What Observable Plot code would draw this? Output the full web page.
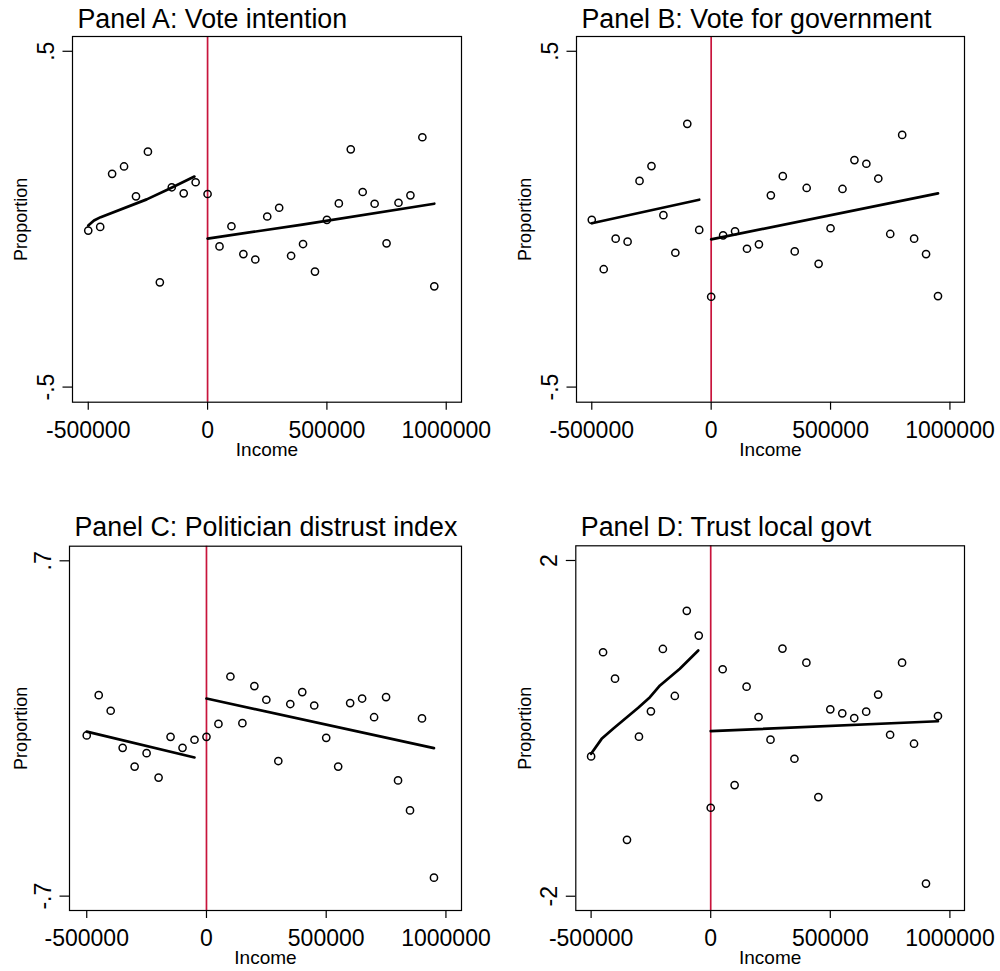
<!DOCTYPE html>
<html><head><meta charset="utf-8">
<script src="https://cdn.jsdelivr.net/npm/d3@7"></script>
<script src="https://cdn.jsdelivr.net/npm/@observablehq/plot@0.6"></script>
<style>
body{margin:0;background:#fff;}
#wrap{position:relative;width:1000px;height:971px;background:#fff;overflow:hidden;}
#wrap svg{position:absolute;font-family:"Liberation Sans",Arial,sans-serif;overflow:visible;}
</style></head><body><div id="wrap"></div>
<script>
// Income bins (x)
const income = [-500000,-450000,-400000,-350000,-300000,-250000,-200000,-150000,-100000,-50000,
  0,50000,100000,150000,200000,250000,300000,350000,400000,450000,
  500000,550000,600000,650000,700000,750000,800000,850000,900000,950000];

const titles = ["Panel A: Vote intention","Panel B: Vote for government","Panel C: Politician distrust index","Panel D: Trust local govt"];
const xLabel = "Income";
const yLabel = "Proportion";
const xTicks = [-500000, 0, 500000, 1000000];
const xTickLabels = ["-500000","0","500000","1000000"];

// Panel A
const voteIntention = [-0.034,-0.023,0.135,0.157,0.068,0.201,-0.188,0.095,0.077,0.110,
  0.075,-0.081,-0.021,-0.104,-0.120,0.008,0.034,-0.109,-0.074,-0.156,
  -0.002,0.047,0.208,0.081,0.046,-0.072,0.049,0.071,0.244,-0.200];
const fitA_leftX = [-500000,-476000,-448000,-255000,-162000,-55000];
const fitA_leftY = [-0.019,-0.004,0.006,0.059,0.090,0.127];
const fitA_rightX = [0,397000,950000];
const fitA_rightY = [-0.058,-0.016,0.046];
const ticksA = [-0.5,0.5], tickLabelsA = ["-.5",".5"];

// Panel B
const voteGovt = [-0.002,-0.149,-0.058,-0.067,0.114,0.158,0.012,-0.100,0.284,-0.032,
  -0.231,-0.048,-0.036,-0.088,-0.075,0.071,0.128,-0.096,0.093,-0.133,
  -0.027,0.090,0.176,0.165,0.121,-0.044,0.251,-0.058,-0.104,-0.229];
const fitB_leftX = [-500000,-50000];
const fitB_leftY = [-0.012,0.058];
const fitB_rightX = [0,950000];
const fitB_rightY = [-0.060,0.077];
const ticksB = [-0.5,0.5], tickLabelsB = ["-.5",".5"];

// Panel C
const distrust = [-0.029,0.139,0.074,-0.081,-0.159,-0.103,-0.205,-0.035,-0.081,-0.047,
  -0.035,0.019,0.217,0.022,0.177,0.120,-0.136,0.102,0.152,0.096,
  -0.039,-0.159,0.106,0.125,0.047,0.131,-0.217,-0.342,0.042,-0.623];
const fitC_leftX = [-500000,-50000];
const fitC_leftY = [-0.013,-0.121];
const fitC_rightX = [0,950000];
const fitC_rightY = [0.125,-0.082];
const ticksC = [-0.7,0.7], tickLabelsC = ["-.7",".7"];

// Panel D
const trustLocal = [-0.334,0.907,0.592,-1.328,-0.099,0.203,0.946,0.386,1.400,1.105,
  -0.946,0.704,-0.676,0.497,0.135,-0.135,0.950,-0.362,0.783,-0.819,
  0.227,0.179,0.123,0.199,0.402,-0.076,0.783,-0.183,-1.849,0.147];
const fitD_leftX = [-500000,-456000,-408000,-303000,-254000,-212000,-129000,-52000];
const fitD_leftY = [-0.303,-0.125,-0.005,0.245,0.371,0.511,0.710,0.928];
const fitD_rightX = [0,950000];
const fitD_rightY = [-0.034,0.085];
const ticksD = [-2,2], tickLabelsD = ["-2","2"];

const panels = [
  {title: titles[0], values: voteIntention, fl: [fitA_leftX, fitA_leftY], fr: [fitA_rightX, fitA_rightY],
   yTicks: ticksA, yLabels: tickLabelsA, xDomain: [-566000,1064000], yDomain: [-0.545,0.544],
   left: 0, top: 0, width: 500, height: 470, mL: 72, mR: 39, mT: 36, mB: 68.3,
   titleDy: -8.7, incomeDy: 54, yLabelDx: -46},
  {title: titles[1], values: voteGovt, fl: [fitB_leftX, fitB_leftY], fr: [fitB_rightX, fitB_rightY],
   yTicks: ticksB, yLabels: tickLabelsB, xDomain: [-564000,1061000], yDomain: [-0.545,0.544],
   left: 500, top: 0, width: 500, height: 470, mL: 76, mR: 36, mT: 36, mB: 68.3,
   titleDy: -8.7, incomeDy: 54, yLabelDx: -45.3},
  {title: titles[2], values: distrust, fl: [fitC_leftX, fitC_leftY], fr: [fitC_rightX, fitC_rightY],
   yTicks: ticksC, yLabels: tickLabelsC, xDomain: [-572000,1065000], yDomain: [-0.760,0.761],
   left: 0, top: 500, width: 500, height: 471, mL: 69, mR: 39, mT: 45.7, mB: 61,
   titleDy: -10.7, incomeDy: 53.3, yLabelDx: -43},
  {title: titles[3], values: trustLocal, fl: [fitD_leftX, fitD_leftY], fr: [fitD_rightX, fitD_rightY],
   yTicks: ticksD, yLabels: tickLabelsD, xDomain: [-564000,1061000], yDomain: [-2.17,2.175],
   left: 500, top: 500, width: 500, height: 471, mL: 75.3, mR: 36, mT: 45.3, mB: 61,
   titleDy: -10.3, incomeDy: 53.3, yLabelDx: -44.6}
];

const wrap = document.getElementById("wrap");
for (const p of panels) {
  const pts = income.map((x, i) => ({x, y: p.values[i]}));
  const fl = p.fl[0].map((x, i) => ({x, y: p.fl[1][i]}));
  const fr = p.fr[0].map((x, i) => ({x, y: p.fr[1][i]}));
  const svg = Plot.plot({
    width: p.width, height: p.height,
    marginLeft: p.mL, marginRight: p.mR, marginTop: p.mT, marginBottom: p.mB,
    style: {fontFamily: "'Liberation Sans', Arial, sans-serif", background: "transparent", color: "black"},
    x: {domain: p.xDomain},
    y: {domain: p.yDomain},
    marks: [
      Plot.ruleX([0], {stroke: "#c8143c", strokeWidth: 1.7}),
      Plot.line(fl, {x: "x", y: "y", stroke: "black", strokeWidth: 2.7}),
      Plot.line(fr, {x: "x", y: "y", stroke: "black", strokeWidth: 2.7}),
      Plot.dot(pts, {x: "x", y: "y", r: 3.6, stroke: "black", strokeWidth: 1.5, fill: "none"}),
      Plot.frame({stroke: "black", strokeWidth: 1.2}),
      Plot.axisX({ticks: xTicks, tickFormat: d => xTickLabels[xTicks.indexOf(d)], tickSize: 8, tickPadding: 11,
        fontSize: 23, label: null, strokeWidth: 1.2}),
      Plot.axisY({ticks: p.yTicks, tickFormat: d => p.yLabels[p.yTicks.indexOf(d)], tickSize: 9.5, tickPadding: 9.5,
        tickRotate: -90, fontSize: 23, label: null, strokeWidth: 1.2}),
      Plot.text([xLabel], {frameAnchor: "bottom", textAnchor: "middle", lineAnchor: "bottom", dy: p.incomeDy, fontSize: 19, text: d => d, fill: "black"}),
      Plot.text([yLabel], {frameAnchor: "left", textAnchor: "middle", rotate: -90, lineAnchor: "bottom", dx: p.yLabelDx, fontSize: 18, text: d => d, fill: "black"}),
      Plot.text([p.title], {frameAnchor: "top-left", textAnchor: "start", lineAnchor: "bottom", dx: 5, dy: p.titleDy, fontSize: 26.8, text: d => d, fill: "black"})
    ]
  });
  svg.style.left = p.left + "px";
  svg.style.top = p.top + "px";
  wrap.appendChild(svg);
}
</script>
</body></html>
